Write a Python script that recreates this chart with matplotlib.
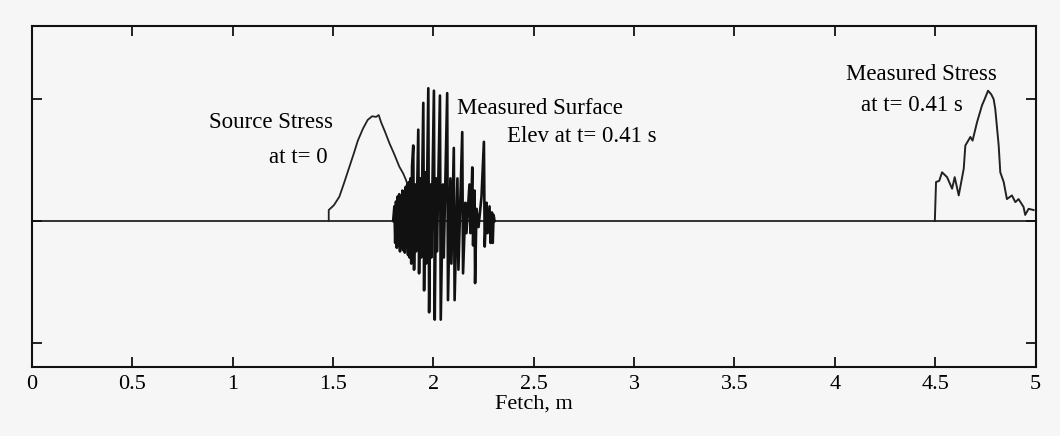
import matplotlib
matplotlib.use('Agg')
import matplotlib.pyplot as plt
from matplotlib.ticker import FormatStrFormatter

# Source stress at t=0
src_x = [1.479, 1.479, 1.505, 1.532, 1.555, 1.582, 1.605, 1.624, 1.650, 1.673,
         1.695, 1.715, 1.728, 1.740, 1.760, 1.781, 1.805, 1.831, 1.850, 1.864, 1.875]
src_y = [0.0, 0.09, 0.13, 0.20, 0.31, 0.445, 0.56, 0.66, 0.76, 0.83,
         0.86, 0.855, 0.87, 0.81, 0.73, 0.64, 0.55, 0.445, 0.39, 0.336, 0.28]

# Measured surface elevation at t=0.41 s
elev_x = [1.800, 1.806, 1.810, 1.814, 1.818, 1.822, 1.826, 1.830, 1.834, 1.838,
          1.842, 1.846, 1.850, 1.854, 1.858, 1.862, 1.866, 1.870, 1.874, 1.878,
          1.882, 1.886, 1.890, 1.894,
          1.900, 1.904, 1.910, 1.914,
          1.925, 1.929, 1.935, 1.939,
          1.950, 1.954, 1.960, 1.964,
          1.975, 1.979, 1.986, 1.990,
          2.003, 2.007, 2.014, 2.018,
          2.033, 2.037, 2.048, 2.052,
          2.069, 2.073, 2.085, 2.090,
          2.102, 2.106, 2.120, 2.125,
          2.144, 2.148, 2.160, 2.165,
          2.180, 2.185, 2.194, 2.198, 2.205, 2.208, 2.215, 2.225,
          2.240, 2.252, 2.256, 2.265, 2.270, 2.280, 2.285, 2.292, 2.296, 2.300, 2.305]
elev_y = [0.0, 0.12, -0.18, 0.16, -0.22, 0.20, -0.20, 0.22, -0.25, 0.20,
          -0.22, 0.25, -0.24, 0.22, -0.26, 0.28, -0.22, 0.30, -0.28, 0.32,
          -0.30, 0.35, -0.35, 0.45,
          0.62, -0.40, 0.30, -0.25,
          0.75, -0.43, 0.35, -0.30,
          0.97, -0.57, 0.40, -0.35,
          1.09, -0.75, 0.30, -0.30,
          1.07, -0.81, 0.35, -0.25,
          1.03, -0.81, 0.30, -0.30,
          1.05, -0.65, 0.35, -0.35,
          0.60, -0.65, 0.35, -0.40,
          0.73, -0.43, 0.15, -0.10,
          0.30, -0.10, 0.44, -0.20, 0.25, -0.51, 0.10, -0.05,
          0.20, 0.65, -0.21, 0.15, -0.10, 0.12, -0.18, 0.07, -0.18, 0.05, 0.0]

# Measured stress at t=0.41 s
meas_x = [4.498, 4.504, 4.520, 4.534, 4.559, 4.584, 4.597, 4.617, 4.642, 4.650,
          4.675, 4.686, 4.708, 4.733, 4.746, 4.763, 4.779, 4.791, 4.799, 4.816,
          4.824, 4.841, 4.857, 4.882, 4.899, 4.915, 4.940, 4.948, 4.965, 4.990]
meas_y = [0.0, 0.32, 0.33, 0.40, 0.36, 0.265, 0.36, 0.21, 0.43, 0.62,
          0.69, 0.66, 0.81, 0.95, 1.0, 1.07, 1.04, 1.0, 0.92, 0.62,
          0.40, 0.32, 0.18, 0.21, 0.155, 0.18, 0.115, 0.05, 0.10, 0.09]

xticks = [0, 0.5, 1, 1.5, 2, 2.5, 3, 3.5, 4, 4.5, 5]
yticks = [-1, 0, 1]

plt.rcParams['font.family'] = ['Liberation Serif', 'DejaVu Serif']

bg = '#f6f6f6'
fig = plt.figure(figsize=(10.6, 4.36), dpi=100, facecolor=bg)
ax = fig.add_axes([0.030, 0.158, 0.947, 0.782], facecolor=bg)

ax.axhline(0, color='#111111', lw=1.2)
ax.plot(src_x, src_y, color='#222222', lw=1.3)
ax.plot(elev_x, elev_y, color='#111111', lw=1.9)
ax.plot(meas_x, meas_y, color='#222222', lw=1.4)

fs = 16.5
ax.text(1.498, 0.81, 'Source Stress', ha='right', va='center', fontsize=fs)
ax.text(1.475, 0.52, 'at t= 0', ha='right', va='center', fontsize=fs)
ax.text(2.12, 0.92, 'Measured Surface', ha='left', va='center', fontsize=fs)
ax.text(2.365, 0.69, 'Elev at t= 0.41 s', ha='left', va='center', fontsize=fs)
ax.text(4.055, 1.2, 'Measured Stress', ha='left', va='center', fontsize=fs)
ax.text(4.13, 0.95, 'at t= 0.41 s', ha='left', va='center', fontsize=fs)

ax.set_xlim(0, 5)
ax.set_ylim(-1.2, 1.6)
ax.set_xticks(xticks)
ax.set_yticks(yticks)
ax.xaxis.set_major_formatter(FormatStrFormatter('%g'))
ax.set_yticklabels([])
ax.tick_params(direction='in', length=7, width=1.3, top=True, right=True,
               labelsize=16, pad=6, color='#111111')
ax.set_xlabel('Fetch, m', fontsize=16, labelpad=0)
for s in ax.spines.values():
    s.set_linewidth(1.5)
    s.set_color('#111111')

fig.savefig('out.png', dpi=100, facecolor=bg)
